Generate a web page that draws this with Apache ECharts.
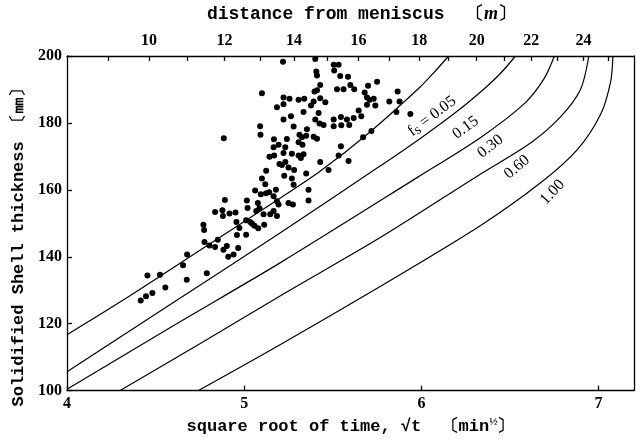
<!DOCTYPE html>
<html>
<head>
<meta charset="utf-8">
<script src="https://cdn.jsdelivr.net/npm/echarts@6/dist/echarts.min.js"></script>
<style>html,body{margin:0;padding:0;background:#fff}#c{width:642px;height:440px}</style>
</head>
<body>
<div id="c"></div>
<script>
// ---- data ----
// measured shell thickness [mm] vs sqrt(time) [min^1/2]
const measured = [
[5.10,188.9],[5.185,184.7],[5.09,179.0],[5.092,176.5],[4.885,175.4],[5.168,175.1],[5.194,173.5],[5.143,169.9],[5.169,170.3],[5.199,167.7],
[5.124,165.7],[5.10,163.4],[5.119,161.7],[5.062,159.8],[5.179,160.0],[5.094,158.7],[5.123,159.0],[5.141,159.3],[5.166,158.1],[5.015,156.8],
[4.891,157.0],[5.077,156.1],[5.185,156.6],[5.019,154.6],[4.836,153.4],[4.877,153.9],[4.88,152.2],[4.917,152.9],[4.951,153.2],[5.068,153.7],
[5.086,154.5],[5.166,153.7],[5.185,152.2],[5.109,152.7],[4.956,150.4],[5.011,150.9],[5.034,150.4],[5.045,149.9],[5.058,149.3],[5.079,148.5],
[5.113,149.6],[4.77,149.6],[4.774,148.0],[4.973,148.6],[4.454,134.4],[4.525,134.6],[4.416,126.9],[4.446,128.2],[4.482,129.2],[4.555,130.8],
[4.655,137.5],[4.678,140.7],[4.676,133.1],[4.789,135.1],[4.776,144.4],[4.804,143.4],[4.836,142.9],[4.851,145.1],[4.883,142.1],[4.902,143.2],
[4.91,140.0],[4.94,140.7],[4.966,142.6],[4.959,146.5],[5.011,146.6],[5.219,198.3],[5.401,199.1],[5.505,197.4],[5.533,197.4],[5.508,195.7],
[5.542,194.0],[5.586,193.8],[5.407,195.4],[5.411,194.2],[5.599,191.3],[5.621,190.1],[5.561,190.1],[5.524,190.1],[5.75,192.3],[5.699,191.1],
[5.429,191.3],[5.411,189.8],[5.397,189.4],[5.68,189.1],[5.693,187.6],[5.708,186.9],[5.731,187.2],[5.693,185.4],[5.74,185.2],[5.819,186.4],
[5.866,189.4],[5.877,186.4],[5.859,183.3],[5.938,182.7],[5.222,187.6],[5.256,187.2],[5.222,185.6],[5.307,186.9],[5.339,187.2],[5.392,186.4],
[5.429,187.4],[5.458,186.2],[5.377,185.2],[5.264,182.0],[5.222,181.0],[5.335,183.3],[5.42,183.0],[5.425,179.8],[5.401,181.0],[5.448,179.4],
[5.505,181.0],[5.546,181.8],[5.58,181.0],[5.618,181.5],[5.646,183.7],[5.661,182.0],[5.505,179.0],[5.548,179.3],[5.593,179.4],[5.279,178.9],
[5.354,178.1],[5.35,176.2],[5.312,176.5],[5.326,175.7],[5.392,175.9],[5.411,175.3],[5.307,174.2],[5.329,173.5],[5.241,175.2],[5.232,172.7],
[5.166,172.7],[5.222,171.0],[5.269,170.8],[5.307,170.3],[5.335,170.6],[5.32,169.5],[5.232,168.3],[5.213,167.4],[5.25,166.7],[5.546,173.0],
[5.671,175.7],[5.718,177.6],[5.533,170.3],[5.589,168.6],[5.429,168.3],[5.282,165.9],[5.226,164.2],[5.35,164.9],[5.269,163.4],[5.279,161.5],
[5.476,165.9],[5.363,160.0],[5.363,156.8],[5.194,155.6],[5.25,156.1],[5.275,155.6],[5.147,152.7]
];
// calculated iso-solid-fraction curves
const fs005 = [[4.0,116.7],[4.36,128.5],[4.77,142.6],[5.2,157.4],[5.43,165.6],[5.71,177.3],[5.99,190.6],[6.08,195.6],[6.154,200]];
const fs015 = [[4.0,105.6],[4.6,126.3],[5.2,147.0],[5.75,166.5],[6.0,175.6],[6.2,183.4],[6.35,190.0],[6.45,195.0],[6.531,200]];
const fs030 = [[4.0,100.4],[4.6,119.4],[5.2,138.1],[5.98,163.8],[6.333,175.6],[6.578,185.6],[6.69,193.0],[6.751,200]];
const fs060 = [[4.3,100],[4.75,114.0],[5.2,128.2],[5.77,145.8],[6.33,164.6],[6.616,174.0],[6.785,181.8],[6.898,190.0],[6.945,200]];
const fs100 = [[4.742,100],[5.2,113.6],[5.77,131.2],[6.33,149.2],[6.68,162.4],[6.88,172.0],[7.011,182.5],[7.068,192.3],[7.081,200]];
const curveNames = ['0.05','0.15','0.30','0.60','1.00'];
// top axis: distance from meniscus [m] (d = v * t, t = x^2)
const castingSpeed = 0.502;
const distanceTicks = [9,10,11,12,13,14,15,16,17,18,19,20,21,22,23,24,25];
const distanceLabels = [10,12,14,16,18,20,22,24];
const xTicks = [4,5,6,7];
const yTicks = [100,120,140,160,180,200];

// ---- chart ----
const toX = d => Math.sqrt(d / castingSpeed);
const serif = 'Liberation Serif';
const mono = 'Liberation Mono';
const lineStyle = {color:'#000', width:1.3};
const axLabel = {color:'#000', fontFamily:serif, fontWeight:'bold', fontSize:16};

const curves = [fs005, fs015, fs030, fs060, fs100];
const labelSpots = [
  {coord:[6.06,182.0], rot:37, text:'{f|f}{s|s}{f| = 0.05}'},
  {coord:[6.25,178.6], rot:36, text:'{f|0.15}'},
  {coord:[6.39,173.0], rot:38, text:'{f|0.30}'},
  {coord:[6.54,166.8], rot:40, text:'{f|0.60}'},
  {coord:[6.74,159.3], rot:47, text:'{f|1.00}'}
];

const series = curves.map((c,i)=>({
  name:'fs='+curveNames[i],
  type:'line', data:c, smooth:0.3,
  showSymbol:false, symbol:'none', clip:true,
  lineStyle:{color:'#000', width:1.2},
  silent:true, z:2,
  markPoint:{
    symbol:'circle', symbolSize:0, silent:true,
    label:{show:true, position:'inside', rotate:labelSpots[i].rot,
      formatter:labelSpots[i].text, color:'#000',
      rich:{f:{fontFamily:serif, fontSize:16, color:'#000'},
            s:{fontFamily:serif, fontSize:14, color:'#000', padding:[5,0,0,0]}}},
    data:[{coord:labelSpots[i].coord, value:curveNames[i]}]
  }
}));
series.push({
  name:'measured', type:'scatter', data:measured,
  symbol:'circle', symbolSize:6, itemStyle:{color:'#000', opacity:1}, z:3, silent:true
});

const chart = echarts.init(document.getElementById('c'), null, {renderer:'canvas'});
chart.setOption({
  animation:false,
  backgroundColor:'#fff',
  grid:{left:67, right:8, top:52, bottom:46},
  xAxis:[
    {type:'value', min:4, max:7.2, position:'bottom',
     axisLine:{show:true, onZero:false, lineStyle},
     axisTick:{show:true, inside:true, length:5, lineStyle, customValues:xTicks},
     axisLabel:Object.assign({margin:5, customValues:xTicks}, axLabel),
     splitLine:{show:false},
     name:'{t|square root of time, }{t|√t  〔min}{s|½}{t|〕}',
     nameLocation:'middle', nameGap:25,
     nameTextStyle:{rich:{t:{fontFamily:mono, fontWeight:'bold', fontSize:17, color:'#000'},
                          s:{fontFamily:serif, fontWeight:'bold', fontSize:11, color:'#000', padding:[0,0,9,0]}}}
    },
    {type:'value', min:4, max:7.2, position:'top',
     axisLine:{show:true, onZero:false, lineStyle},
     axisTick:{show:true, inside:true, length:5, lineStyle, customValues:distanceTicks.map(toX)},
     axisLabel:Object.assign({margin:7, customValues:distanceLabels.map(toX),
        formatter:v=>String(Math.round(v*v*castingSpeed))}, axLabel),
     splitLine:{show:false},
     name:'{t|distance from meniscus  〔}{i|m}{t|〕}',
     nameLocation:'middle', nameGap:33,
     nameTextStyle:{padding:[0,0,0,22],
       rich:{t:{fontFamily:mono, fontWeight:'bold', fontSize:18, color:'#000'},
             i:{fontFamily:serif, fontWeight:'bold', fontStyle:'italic', fontSize:18, color:'#000'}}}
    }
  ],
  yAxis:[
    {type:'value', min:100, max:200, interval:20,
     axisLine:{show:true, onZero:false, lineStyle},
     axisTick:{show:true, inside:true, length:5, lineStyle},
     axisLabel:Object.assign({margin:5, customValues:yTicks}, axLabel),
     splitLine:{show:false},
     name:'Solidified Shell thickness 〔㎜〕',
     nameLocation:'middle', nameGap:37,
     nameTextStyle:{fontFamily:mono, fontWeight:'bold', fontSize:17, color:'#000', padding:[0,40,0,0]}
    },
    {type:'value', min:100, max:200, position:'right',
     axisLine:{show:true, onZero:false, lineStyle},
     axisTick:{show:false}, axisLabel:{show:false}, splitLine:{show:false}
    }
  ],
  series
});
</script>
</body>
</html>
